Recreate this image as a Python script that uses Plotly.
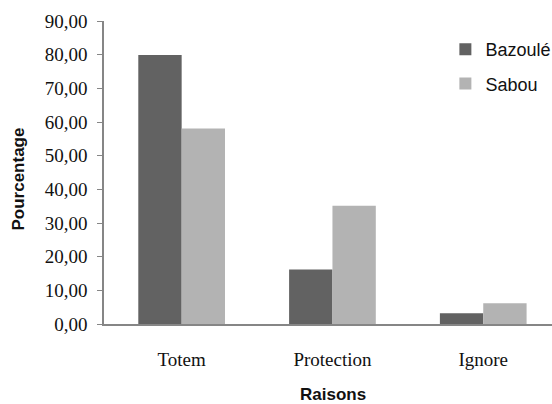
import plotly.graph_objects as go

# Raisons évoquées, en pourcentage, par localité
raisons = ["Totem", "Protection", "Ignore"]
bazoule = [79.9, 16.2, 3.2]
sabou = [58.1, 35.1, 6.2]

DARK = "#626262"
LIGHT = "#b3b3b3"
AXIS = "#868686"

fig = go.Figure()
fig.add_trace(go.Bar(x=raisons, y=bazoule, name="Bazoulé", marker=dict(color=DARK, line=dict(width=0)),
                     legendgroup="a"))
fig.add_trace(go.Bar(x=raisons, y=sabou, name="Sabou", marker=dict(color=LIGHT, line=dict(width=0)),
                     legendgroup="b"))

fig.update_layout(
    width=552, height=404,
    margin=dict(l=104, r=0, t=21, b=80, autoexpand=False),
    paper_bgcolor="white", plot_bgcolor="white",
    separators=", ",
    barmode="group", bargap=0.425, bargroupgap=0,
    showlegend=True,
    legend=dict(x=0.762, y=0.967, xanchor="left", yanchor="top",
                font=dict(family="Liberation Sans, Arial", size=18, color="#111"),
                tracegroupgap=8, traceorder="grouped", bgcolor="rgba(0,0,0,0)"),
    xaxis=dict(range=[-0.515, 2.456], showline=True, linecolor=AXIS, linewidth=1.5,
               ticks="", showgrid=False, zeroline=False, automargin=False,
               tickfont=dict(family="Liberation Serif, Times New Roman", size=19, color="#111"),
               ticklabelstandoff=17),
    yaxis=dict(range=[0, 90], dtick=10, tickformat=".2f", showline=True, linecolor=AXIS,
               linewidth=1.5, ticks="outside", ticklen=5, tickcolor=AXIS, tickwidth=1.2,
               showgrid=False, zeroline=False, automargin=False,
               tickfont=dict(family="Liberation Serif, Times New Roman", size=19, color="#111"),
               ticklabelstandoff=6),
    annotations=[
        dict(text="<b>Raisons</b>", xref="paper", yref="paper", x=0.511, y=-0.234,
             xanchor="center", yanchor="middle", showarrow=False,
             font=dict(family="Liberation Sans, Arial", size=17, color="#111")),
        dict(text="<b>Pourcentage</b>", xref="paper", yref="paper", x=-0.193, y=0.4785,
             xanchor="center", yanchor="middle", showarrow=False, textangle=-90,
             font=dict(family="Liberation Sans, Arial", size=17, color="#111")),
    ],
)

fig.write_html("out.html")
